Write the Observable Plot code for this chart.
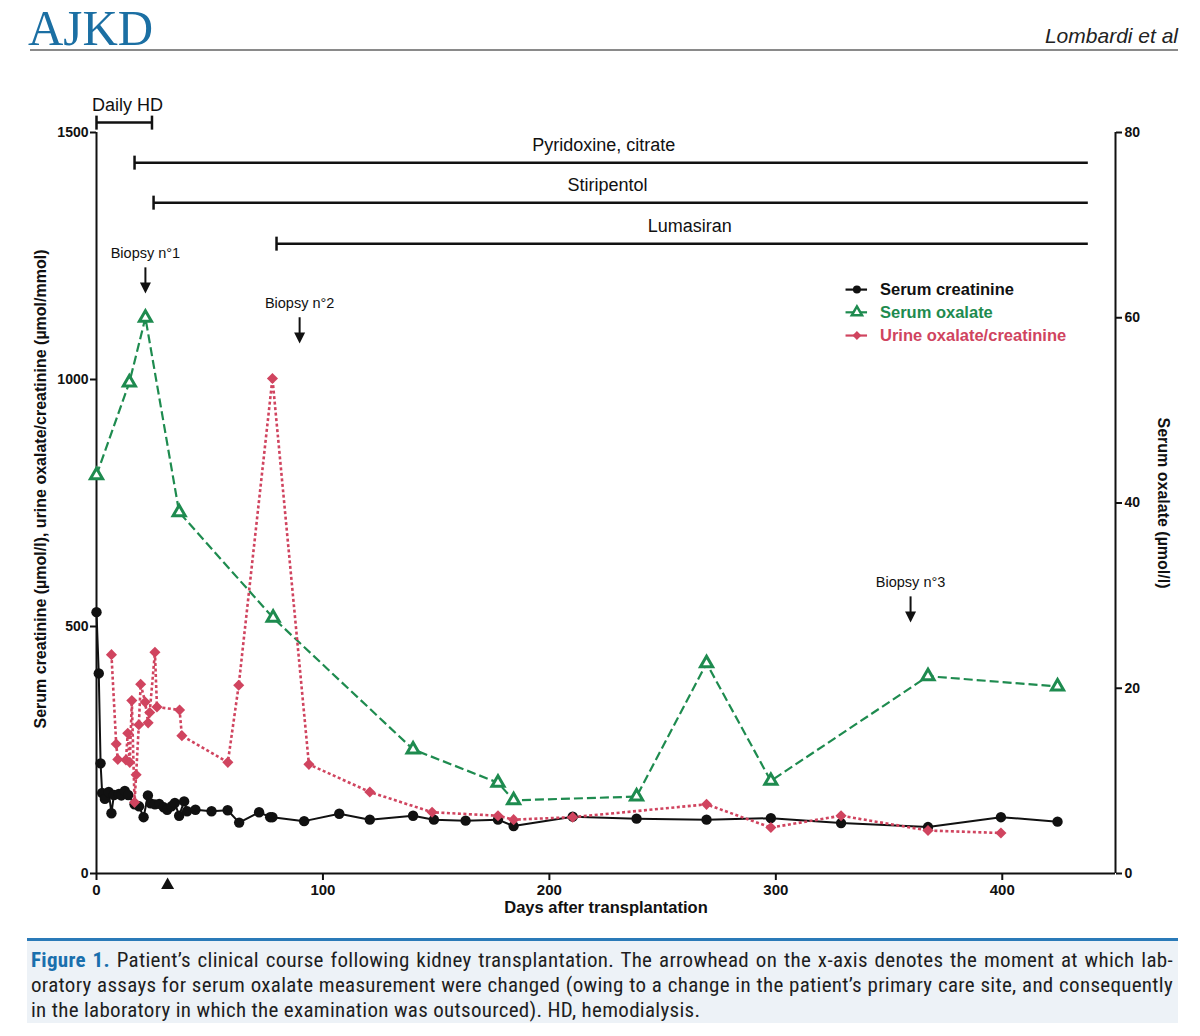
<!DOCTYPE html>
<html><head><meta charset="utf-8">
<script src="https://cdn.jsdelivr.net/npm/d3@7"></script>
<script src="https://cdn.jsdelivr.net/npm/@observablehq/plot@0.6"></script>
<style>
html,body{margin:0;padding:0;background:#fff;}
body{position:relative;width:1200px;height:1036px;overflow:hidden;font-family:"Liberation Sans",Arial,sans-serif;}
#logo{position:absolute;left:28px;top:3px;font-family:"Liberation Serif","DejaVu Serif",serif;font-size:51px;line-height:51px;color:#1b6fa3;transform:scaleX(0.96);transform-origin:left top;}
#author{position:absolute;right:22px;top:24px;font-style:italic;font-size:21px;line-height:24px;color:#222;}
#hrule{position:absolute;left:30px;width:1148px;top:49px;height:2px;background:#8a8a8a;}
#chart{position:absolute;left:0;top:60px;width:1200px;height:870px;}
#caption{position:absolute;left:27px;top:938px;width:1151px;height:85px;box-sizing:border-box;border-top:3px solid #2a7ab8;background:#edf2f7;padding:7px 5px 0 4px;font-family:"Liberation Sans Narrow","Arial Narrow","Roboto Condensed",sans-serif;font-size:21px;letter-spacing:0.3px;line-height:25px;color:#1e1e1e;}
#caption .ln{white-space:nowrap;text-align:justify;text-align-last:justify;}
#caption .ln.last{text-align-last:left;}
#caption b{color:#1a6fad;}
</style></head>
<body>
<div id="logo">AJKD</div>
<div id="author">Lombardi et al</div>
<div id="hrule"></div>
<div id="chart"></div>
<div id="caption">
<div class="ln"><b>Figure 1.</b> Patient’s clinical course following kidney transplantation. The arrowhead on the x-axis denotes the moment at which lab-</div>
<div class="ln">oratory assays for serum oxalate measurement were changed (owing to a change in the patient’s primary care site, and consequently</div>
<div class="ln last">in the laboratory in which the examination was outsourced). HD, hemodialysis.</div>
</div>
<script>
// ---- Data ----
const creatDays = [0,1,1.8,2.5,3.7,5.4,6.6,7.7,9.9,11,12.5,14,16.8,18.8,20.8,22.7,23.9,25.8,27.7,29.7,31.2,33.1,34.6,36.5,38.7,40,43.7,50.8,57.9,63,71.8,76.7,77.7,91.7,107.2,120.7,139.8,149,163,177.3,184.2,210.3,238.5,269.4,297.8,328.8,367.2,399.4,424.4];
const creatVals = [529,405,223,163,151,165,122,159,161,158,167,159,140,136,114,158,142,140,141,134,129,136,143,117,146,126,129,126,128,103,124,114,114,106,121,109,117,109,107,109,96,115,111,109,112,102,94,114,105];

const oxDays = [0,14.5,21.6,36.5,78,139.8,177.3,184.2,238.5,269.4,297.8,367.2,424.4];
const oxVals = [43.0,53.0,60.0,39.0,27.6,13.4,9.8,7.9,8.3,22.7,10.0,21.3,20.2];

const uoDays = [6.6,8.7,9.4,13,13.8,14.7,15.6,16.8,17.5,18.7,19.5,21.5,22.8,23.5,25.8,26.7,36.7,37.7,58,62.8,77.7,93.8,120.7,148.2,177.3,184.2,210.3,269.4,297.8,328.8,367.2,399.4];
const uoVals = [443,262,231,230,284,225,350,144,200,301,383,347,305,326,448,337,331,279,225,381,1002,221,165,124,117,109,114,140,93,117,87,82];

const treatLabels = ["Daily HD","Pyridoxine, citrate","Stiripentol","Lumasiran"];
const treatStart = [0,16.8,25.2,79.5];
const treatEnd = [24.5,438,438,438];
const treatLevel = [1520,1439,1358,1275];
const treatLabelDay = [13.7,224,225.7,262];

const biopsyLabels = ["Biopsy n°1","Biopsy n°2","Biopsy n°3"];
const biopsyDays = [21.6,89.7,359.5];
const biopsyTip = [1174,1073,508];

const assayChangeDay = [31.4];

const leftTicks = [0,500,1000,1500];
const rightTicks = [0,20,40,60,80];
const xTicks = [0,100,200,300,400];

const seriesNames = ["Serum creatinine","Serum oxalate","Urine oxalate/creatinine"];
const legendY = [1182,1136,1089];

// ---- Build tables ----
const S = 1500/80; // right axis (0-80) mapped onto left axis (0-1500)
const BLACK = "#111", GREEN = "#1e8b4f", RED = "#d0445f";
const creat = creatDays.map((d,i)=>({day:d, v:creatVals[i]}));
const ox = oxDays.map((d,i)=>({day:d, v:oxVals[i]*S}));
const uo = uoDays.map((d,i)=>({day:d, v:uoVals[i]}));
const treat = treatLabels.map((l,i)=>({label:l, start:treatStart[i], end:treatEnd[i], level:treatLevel[i], lx:treatLabelDay[i]}));
const treatTicks = treat.map(t=>({x:t.start, y:t.level})).concat([{x:treat[0].end, y:treat[0].level}]);
const bio = biopsyLabels.map((l,i)=>({label:l, day:biopsyDays[i], tip:biopsyTip[i]}));
const colors = [BLACK, GREEN, RED];
const dashes = [null, "6,3", "2.5,2.5"];
const legend = seriesNames.map((n,i)=>({name:n, y:legendY[i], color:colors[i], dash:dashes[i], i}));

const vbar = {draw(ctx,size){const r=Math.sqrt(size/Math.PI); ctx.moveTo(0,-r); ctx.lineTo(0,r);}};
const downHead = {draw(ctx,size){ctx.moveTo(-5.5,-11); ctx.lineTo(5.5,-11); ctx.lineTo(0,0); ctx.closePath();}};
const upHead = {draw(ctx,size){ctx.moveTo(0,-6); ctx.lineTo(6.5,5.5); ctx.lineTo(-6.5,5.5); ctx.closePath();}};

const FONT = "'Liberation Sans', Arial, Helvetica, sans-serif";

const chart = Plot.plot({
  width:1200, height:870,
  marginTop:72, marginBottom:57, marginLeft:96, marginRight:85,
  x:{domain:[0,450]},
  y:{domain:[0,1500]},
  style:{fontFamily:FONT, color:"#111", background:"transparent", overflow:"visible"},
  marks:[
    // axes
    Plot.axisX({ticks:xTicks, tickSize:7, tickPadding:4, strokeWidth:2, fontWeight:"bold", fontSize:15, label:null, tickFormat:d=>String(d)}),
    Plot.axisY({anchor:"left", ticks:leftTicks, tickSize:6, tickPadding:2, strokeWidth:2, fontWeight:"bold", fontSize:14, label:null, tickFormat:d=>String(d)}),
    Plot.axisY({anchor:"right", ticks:rightTicks.map(v=>v*S), tickSize:6, tickPadding:3, strokeWidth:2, fontWeight:"bold", fontSize:14, label:null, tickFormat:d=>String(Math.round(d/S))}),
    Plot.ruleX([0], {y1:0, y2:1500, stroke:BLACK, strokeWidth:2}),
    Plot.ruleX([450], {y1:0, y2:1500, stroke:BLACK, strokeWidth:2}),
    Plot.ruleY([0], {stroke:BLACK, strokeWidth:2}),
    // axis titles
    Plot.text(["Days after transplantation"], {frameAnchor:"bottom", dy:39, fontWeight:"bold", fontSize:16.5, fill:BLACK}),
    Plot.text(["Serum creatinine (µmol/l), urine oxalate/creatinine (µmol/mmol)"], {frameAnchor:"left", textAnchor:"middle", dx:-56, dy:-14, rotate:-90, fontWeight:"bold", fontSize:16, fill:BLACK}),
    Plot.text(["Serum oxalate (µmol/l)"], {frameAnchor:"right", textAnchor:"middle", dx:48, rotate:90, fontWeight:"bold", fontSize:16, fill:BLACK}),
    // treatment bars
    Plot.ruleY(treat, {y:"level", x1:"start", x2:"end", stroke:BLACK, strokeWidth:2.5}),
    Plot.dot(treatTicks, {x:"x", y:"y", symbol:vbar, r:7, stroke:BLACK, strokeWidth:2.5}),
    Plot.text(treat, {x:"lx", y:"level", text:"label", dy:-17, fontSize:18, fill:"#111"}),
    // biopsies
    Plot.text(bio, {x:"day", y:"tip", text:"label", dy:-40, fontSize:14.5, fill:"#111"}),
    Plot.ruleX(bio, {x:"day", y1:d=>d.tip+52, y2:d=>d.tip+18, stroke:BLACK, strokeWidth:2}),
    Plot.dot(bio, {x:"day", y:"tip", symbol:downHead, fill:BLACK, stroke:"none"}),
    // assay change arrowhead on x axis
    Plot.dot(assayChangeDay, {x:d=>d, frameAnchor:"bottom", dy:10, symbol:upHead, fill:BLACK, stroke:"none"}),
    // series
    Plot.line(creat, {x:"day", y:"v", stroke:BLACK, strokeWidth:2}),
    Plot.dot(creat, {x:"day", y:"v", r:5.2, fill:BLACK, stroke:"none"}),
    Plot.line(ox, {x:"day", y:"v", stroke:GREEN, strokeWidth:2.2, strokeDasharray:"9,4", strokeLinecap:"butt"}),
    Plot.line(uo, {x:"day", y:"v", stroke:RED, strokeWidth:2.6, strokeDasharray:"3,2.5", strokeLinecap:"butt"}),
    Plot.dot(uo, {x:"day", y:"v", symbol:"diamond2", r:5, fill:RED, stroke:"none"}),
    Plot.dot(ox, {x:"day", y:"v", symbol:"triangle", r:4.5, fill:"#fff", stroke:GREEN, strokeWidth:3}),
    // legend
    Plot.ruleY(legend, {y:"y", x1:331, x2:340.5, stroke:"color", strokeWidth:2.2, strokeDasharray:d=>d.dash, strokeLinecap:"butt"}),
    Plot.dot(legend.filter(d=>d.i===0), {x:335.8, y:"y", r:4, fill:BLACK}),
    Plot.dot(legend.filter(d=>d.i===1), {x:335.8, y:"y", symbol:"triangle", r:3.8, fill:"#fff", stroke:GREEN, strokeWidth:2.5}),
    Plot.dot(legend.filter(d=>d.i===2), {x:335.8, y:"y", symbol:"diamond2", r:4, fill:RED}),
    Plot.text(legend, {x:346, y:"y", text:"name", fill:"color", textAnchor:"start", fontWeight:"bold", fontSize:16.5})
  ]
});
document.getElementById("chart").appendChild(chart);
</script>
</body></html>
